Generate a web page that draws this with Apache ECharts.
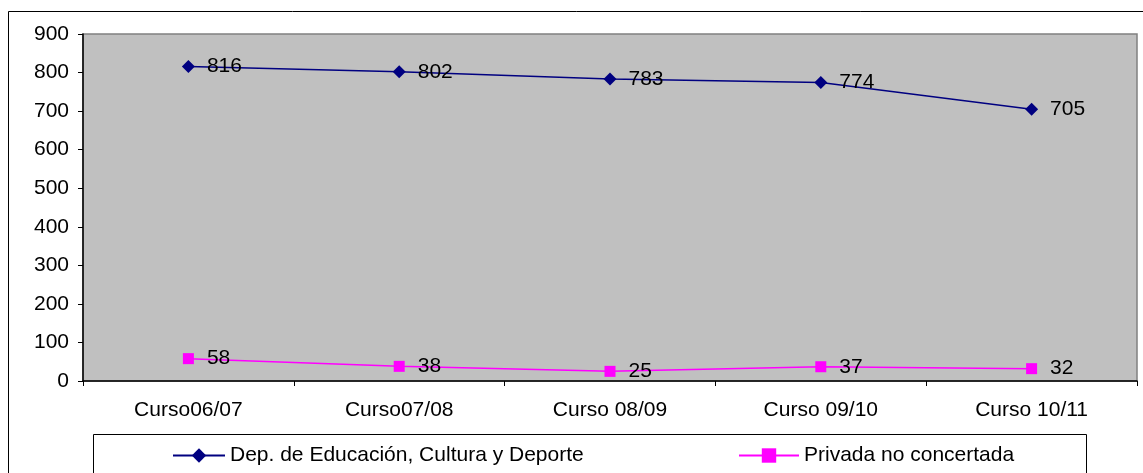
<!DOCTYPE html>
<html><head><meta charset="utf-8">
<script src="https://cdn.jsdelivr.net/npm/echarts@6/dist/echarts.min.js"></script>
<style>html,body{margin:0;padding:0;background:#fff;}#c{width:1143px;height:473px;}</style>
</head><body><div id="c"></div>
<script>
const categories = ['Curso06/07', 'Curso07/08', 'Curso 08/09', 'Curso 09/10', 'Curso 10/11'];
const seriesNames = ['Dep. de Educación, Cultura y Deporte', 'Privada no concertada'];
const depEducacion = [816, 802, 783, 774, 705];
const privada = [58, 38, 25, 37, 32];
const yTicks = {min: 0, max: 900, interval: 100};

const font = '"Liberation Sans", Arial, sans-serif';
const chart = echarts.init(document.getElementById('c'));
chart.setOption({
  animation: false,
  backgroundColor: '#fff',
  graphic: [
    {type: 'rect', shape: {x: 8.5, y: 11.5, width: 1200, height: 500}, style: {fill: 'none', stroke: '#000', lineWidth: 1}, z: -10},
    {type: 'rect', shape: {x: 93.5, y: 434.5, width: 993, height: 60}, style: {fill: '#fff', stroke: '#000', lineWidth: 1}, z: -5}
  ],
  grid: {left: 83, right: 6, top: 34, bottom: 92, show: true, backgroundColor: '#C0C0C0', borderColor: '#808080', borderWidth: 1.5},
  legend: [
    {data: [seriesNames[0]], left: 167, top: 440, itemWidth: 52, itemHeight: 18, itemGap: 0,
     textStyle: {fontFamily: font, fontSize: 21, color: '#000'}},
    {data: [seriesNames[1]], left: 733, top: 440, itemWidth: 60, itemHeight: 18, itemGap: 0,
     textStyle: {fontFamily: font, fontSize: 21, color: '#000'}}
  ],
  xAxis: {
    type: 'category', data: categories, boundaryGap: true,
    axisLine: {lineStyle: {color: '#000', width: 1.5}},
    axisTick: {show: true, alignWithLabel: false, length: 5, lineStyle: {color: '#000'}},
    axisLabel: {fontFamily: font, fontSize: 21, color: '#000', margin: 19},
    splitLine: {show: false}
  },
  yAxis: {
    type: 'value', min: yTicks.min, max: yTicks.max, interval: yTicks.interval,
    axisLine: {show: true, lineStyle: {color: '#000', width: 1.5}},
    axisTick: {show: true, length: 5, lineStyle: {color: '#000'}},
    axisLabel: {fontFamily: font, fontSize: 21, color: '#000', margin: 14},
    splitLine: {show: false}
  },
  series: [
    {name: seriesNames[0], type: 'line', data: depEducacion, symbol: 'diamond', symbolSize: 13,
     lineStyle: {color: '#000080', width: 1.5}, itemStyle: {color: '#000080'},
     label: {show: true, position: 'right', distance: 12, fontFamily: font, fontSize: 21, color: '#000'}},
    {name: seriesNames[1], type: 'line', data: privada, symbol: 'rect', symbolSize: 11,
     lineStyle: {color: '#FF00FF', width: 1.5}, itemStyle: {color: '#FF00FF'},
     label: {show: true, position: 'right', distance: 13, fontFamily: font, fontSize: 21, color: '#000'}}
  ]
});
</script></body></html>
